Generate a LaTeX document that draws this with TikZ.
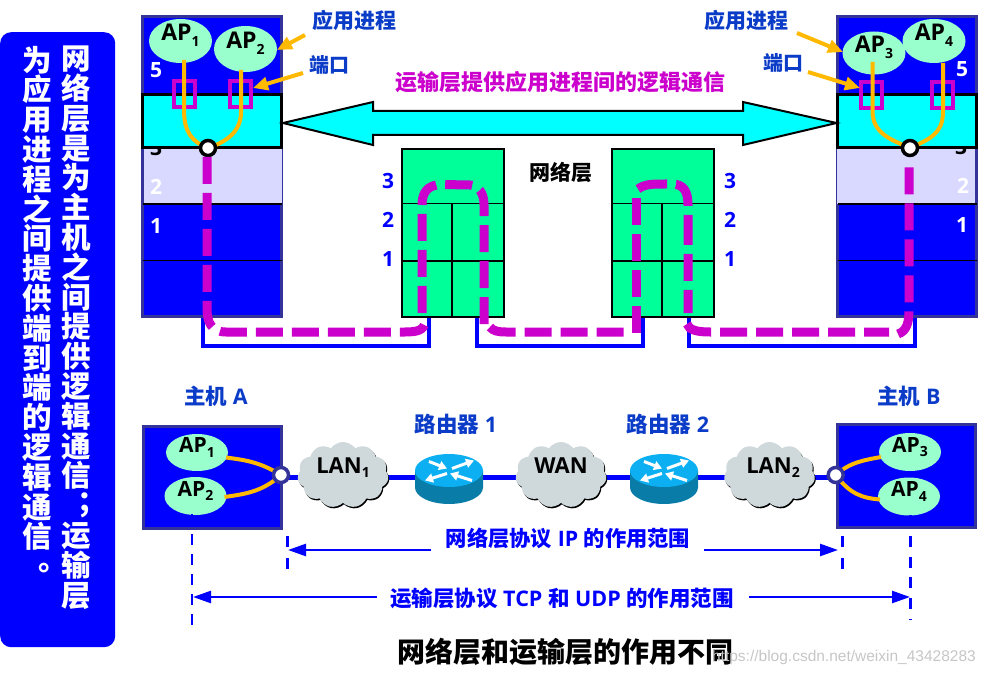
\documentclass[tikz,border=0pt]{standalone}
\usepackage{fontspec}
\setmainfont{Open Sans}
\newfontfamily\cjk{Noto Sans CJK SC}
\newfontfamily\lat{Open Sans}
\newfontfamily\wm{Liberation Sans}
\usetikzlibrary{shapes.geometric,shapes.symbols,arrows.meta,backgrounds}
\definecolor{hostedge}{HTML}{333399}
\definecolor{hostblue}{HTML}{0000FF}
\definecolor{lav}{HTML}{D9D9FF}
\definecolor{mag}{HTML}{CC00CC}
\definecolor{yel}{HTML}{FFB900}
\definecolor{mint}{HTML}{99FFCC}
\definecolor{rgreen}{HTML}{00FF99}
\definecolor{lbl}{HTML}{0B3CC8}
\definecolor{cloudc}{HTML}{CFD8DB}
\definecolor{rtop}{HTML}{0CB0F2}
\definecolor{rside}{HTML}{0A7CA8}
\definecolor{aqua}{HTML}{00FFFF}
\newcommand\fz[1]{\fontsize{#1}{#1}\selectfont}
\newcommand\bc[1]{{\cjk\bfseries #1}}
\newcommand\bl[1]{{\lat\bfseries #1}}
\newcommand\ap[2]{\raisebox{0pt}[0pt][0pt]{\fz{#2}\bl{AP\raisebox{-0.22em}{\fz{14}\bl{#1}}}}}
\tikzset{
 x=1pt,y=-1pt,
 txt/.style={inner sep=0pt,outer sep=0pt,text=#1},
 txt/.default=black,
 stack/.style={draw=hostedge,line width=2.5pt,fill=hostblue,minimum width=139pt,minimum height=300pt,inner sep=0pt,outer sep=0pt},
 cyanbox/.style={draw=black,line width=3pt,fill=aqua,minimum width=139pt,minimum height=53pt,inner sep=0pt},
 lavbox/.style={fill=lav,minimum width=138pt,minimum height=56pt,inner sep=0pt},
 sep/.style={draw=black,line width=1.5pt},
 rbox/.style={draw=black,line width=2pt,fill=rgreen,minimum width=102pt,minimum height=167.5pt,inner sep=0pt,outer sep=0pt},
 apell/.style={ellipse,fill=mint,minimum width=#1,inner sep=0pt,outer sep=0pt},
 apell/.default=63pt,
 port/.style={draw=mag,line width=4pt,minimum width=21pt,minimum height=26pt,inner sep=0pt},
 yl/.style={draw=yel,line width=4pt},
 ptr/.style={draw=yel,line width=4pt,-{Triangle[length=15pt,width=13pt]}},
 hole/.style={circle,draw=black,fill=white,line width=3.5pt,minimum size=15pt,inner sep=0pt},
 hole2/.style={circle,draw=hostedge,fill=white,line width=3.5pt,minimum size=15pt,inner sep=0pt},
 logic/.style={draw=mag,line width=9pt,dash pattern=on 27pt off 9pt},
 link/.style={draw=hostblue,line width=4.5pt,line join=miter},
 net/.style={draw=hostblue,line width=5pt},
 scope/.style={draw=hostblue,line width=2.5pt,-{Triangle[length=18pt,width=12pt]}},
 tick/.style={draw=hostblue,line width=2.5pt,dash pattern=on 11pt off 9pt},
 cloudn/.style={cloud,cloud puffs=11,cloud puff arc=110,aspect=1.4,fill=cloudc,minimum width=91pt,minimum height=66pt,inner sep=0pt},
 routerpic/.pic={
  \fill[rside] (-34,0) -- (-34,17) arc[start angle=180,end angle=360,x radius=34pt,y radius=16.5pt] -- (34,0) -- cycle;
  \fill[rtop] (0,0) ellipse [x radius=34pt,y radius=16.5pt];
  \draw[white,line width=3pt,-{Triangle[length=8pt,width=9pt]}] (-20,-9) -- (-2,-2);
  \draw[white,line width=3pt,-{Triangle[length=8pt,width=9pt]}] (3,-2) -- (25,-10);
  \draw[white,line width=3pt,-{Triangle[length=8pt,width=9pt]}] (-2,3) -- (-24,10);
  \draw[white,line width=3pt,-{Triangle[length=8pt,width=9pt]}] (23,10) -- (1,3);
 }
}
\begin{document}
\begin{tikzpicture}
\useasboundingbox (0,0) rectangle (985,676);

% left panel
\node[fill=hostblue,rounded corners=11pt,minimum width=115pt,minimum height=615pt,inner sep=0pt,anchor=north west] (panel) at (0,32) {};
\node[txt=white,anchor=north,align=center,font=\fontsize{29.5}{29.8}\selectfont\cjk\bfseries] (col1) at (76.5,46) {网\\络\\层\\是\\为\\主\\机\\之\\间\\提\\供\\逻\\辑\\通\\信\\\hspace{1pt}\raisebox{4pt}[0pt][0pt]{\makebox[0pt][l]{；}}\\运\\输\\层};
\node[txt=white,anchor=north,align=center,font=\fontsize{29.5}{29.8}\selectfont\cjk\bfseries] (col2) at (37,46) {为\\应\\用\\进\\程\\之\\间\\提\\供\\端\\到\\端\\的\\逻\\辑\\通\\信\\\hspace{4pt}\raisebox{7pt}[0pt][0pt]{\makebox[0pt][l]{。}}};

% end hosts, upper
\node[stack] (hostL) at (212,166.5) {};
\node[stack] (hostR) at (907,166.5) {};
\node[lavbox] (lavL) at (213,176) {};
\node[lavbox] (lavR) at (906,176) {};
\draw[sep] (142.5,204) -- (281.5,204) (142.5,260.7) -- (281.5,260.7);
\draw[sep] (837.5,204) -- (976.5,204) (837.5,260.7) -- (976.5,260.7);
\node[txt=white,font=\fz{21}\bfseries] (l5) at (156,70) {5};
\node[txt=black,font=\fz{21}\bfseries] (l3) at (156,148) {3};
\node[txt=white,font=\fz{21}\bfseries] (l2) at (156,187) {2};
\node[txt=white,font=\fz{21}\bfseries] (l1) at (156,226) {1};
\node[txt=white,font=\fz{21}\bfseries] (r5) at (962,69) {5};
\node[txt=black,font=\fz{21}\bfseries] (r3) at (961,147) {3};
\node[txt=white,font=\fz{21}\bfseries] (r2) at (963,186) {2};
\node[txt=white,font=\fz{21}\bfseries] (r1) at (962,225) {1};
\node[cyanbox] (cyL) at (212,121.5) {};
\node[cyanbox] (cyR) at (907,121.5) {};

% ports
\node[port] (p1) at (184.3,94) {};
\node[port] (p2) at (240.3,94) {};
\node[port] (p3) at (871.5,95) {};
\node[port] (p4) at (942,95) {};

% applications, upper
\node[apell,minimum height=44pt] (ap1) at (180.5,41) {\ap{1}{23}};
\node[apell,minimum height=46pt] (ap2) at (245.5,49) {\ap{2}{23}};
\node[apell,minimum height=43pt] (ap3) at (874,53) {\ap{3}{23}};
\node[apell,minimum height=44pt] (ap4) at (934,41) {\ap{4}{23}};

\coordinate (cLc) at (208,148);
\coordinate (cRc) at (910,148);
\coordinate (y1) at (184,60);
\coordinate (y1a) at (184,110);
\coordinate (y2) at (241,70);
\coordinate (y2a) at (241,112);
\coordinate (y3) at (872.5,62);
\coordinate (y3a) at (872.5,112);
\coordinate (y4) at (943,63);
\coordinate (y4a) at (943,112);
\draw[yl] (y1) -- (y1a) .. controls (184,132) and (192,142) .. (cLc);
\draw[yl] (y2) -- (y2a) .. controls (241,132) and (226,142) .. (cLc);
\draw[yl] (y3) -- (y3a) .. controls (873,134) and (892,140) .. (cRc);
\draw[yl] (y4) -- (y4a) .. controls (943,134) and (928,140) .. (cRc);
\node[hole] (cL) at (cLc) {};
\node[hole] (cR) at (cRc) {};

% routers upper
\node[rbox] (rt1) at (453,233) {};
\node[rbox] (rt2) at (663,233) {};
\draw[sep] (rt1.west |- 0,203.3) -- (rt1.east |- 0,203.3);
\draw[sep] (rt1.west |- 0,261) -- (rt1.east |- 0,261);
\draw[sep] (452,203.3) -- (452,316.7);
\draw[sep] (rt2.west |- 0,203.3) -- (rt2.east |- 0,203.3);
\draw[sep] (rt2.west |- 0,261) -- (rt2.east |- 0,261);
\draw[sep] (662,203.3) -- (662,316.7);

% blue U links
\begin{scope}[on background layer]
\coordinate (ua) at (203,317); \coordinate (ub) at (429,317);
\coordinate (uc) at (477,317); \coordinate (ud) at (643,317);
\coordinate (ue) at (689,317); \coordinate (uf) at (915,317);
\draw[link] (ua) -- (203,346) -- (429,346) -- (ub);
\draw[link] (uc) -- (477,346) -- (643,346) -- (ud);
\draw[link] (ue) -- (689,346) -- (915,346) -- (uf);
\end{scope}

% magenta logical path
\draw[logic] (207,157) -- (207,308) .. controls (207,322) and (211,332) .. (226,332) -- (405,332) .. controls (418,332) and (424,330) .. (425,322);
\draw[logic] (422,313) -- (422,205) .. controls (422,192) and (428,185) .. (441,184.5) -- (470,185) .. controls (478,186) and (484,192) .. (484,205) -- (484,324);
\draw[logic] (490,327) .. controls (493,331) and (498,332) .. (506,332) -- (624,332);
\draw[logic] (636,333) -- (636,197);
\draw[logic,dash pattern=on 30pt off 9pt on 27pt off 9pt] (638,189) .. controls (645,184) and (652,184) .. (666,184) -- (672,184) .. controls (684,184) and (688,192) .. (688,205) -- (688,313);
\draw[logic] (687,324) .. controls (689,330) and (697,332) .. (710,332) -- (889,332);
\draw[logic] (898,334) .. controls (907,331) and (909,322) .. (909,310) -- (909,166);

% big double arrow
\coordinate (bigL) at (283,123); \coordinate (bigR) at (836.5,123);
\draw[line width=2pt,fill=aqua,line join=miter] (bigL) -- (373,102) -- (373,111) -- (743,111) -- (743,102) -- (bigR) -- (743,145) -- (743,135) -- (373,135) -- (373,145) -- cycle;

% pointer arrows and labels
\node[txt=lbl,font=\fz{21}\cjk\bfseries] (tAppL) at (354,20) {应用进程};
\node[txt=lbl,font=\fz{20}\cjk\bfseries] (tPortL) at (329,65) {端口};
\node[txt=lbl,font=\fz{21}\cjk\bfseries] (tAppR) at (746,20) {应用进程};
\node[txt=lbl,font=\fz{20}\cjk\bfseries] (tPortR) at (783,63) {端口};
\coordinate (a1) at (305,35); \coordinate (a2) at (303,73); \coordinate (a3) at (797,33); \coordinate (a4) at (808,72);
\coordinate (b1) at (277,50); \coordinate (b2) at (253,88); \coordinate (b3) at (843,52); \coordinate (b4) at (860,88);
\draw[ptr] (a1) -- (b1);
\draw[ptr] (a2) -- (b2);
\draw[ptr] (a3) -- (b3);
\draw[ptr] (a4) -- (b4);
\node[txt=mag,font=\fz{22}\cjk\bfseries] (tTitle) at (560,82) {运输层提供应用进程间的逻辑通信};
\node[txt,font=\fz{21}\cjk\bfseries] (tNet) at (561,173) {网络层};
\foreach \n/\y/\t in {a/181/3,b/220/2,c/259/1}{
 \node[txt=hostblue,font=\fz{21}\bfseries] (nl\n) at (388,\y) {\t};
 \node[txt=hostblue,font=\fz{21}\bfseries] (nr\n) at (730,\y) {\t};
}

% lower network
\node[txt=lbl,font=\fz{21.5}] (tHA) at (216,396) {\bc{主机} \bl{A}};
\node[txt=lbl,font=\fz{21.5}] (tHB) at (909,396) {\bc{主机} \bl{B}};
\node[txt=lbl,font=\fz{21.5}] (tR1) at (456,424) {\bc{路由器} \bl{1}};
\node[txt=lbl,font=\fz{21.5}] (tR2) at (668,424) {\bc{路由器} \bl{2}};
\node[draw=hostedge,line width=3pt,fill=hostblue,minimum width=138pt,minimum height=102pt,inner sep=0pt] (boxA) at (212,477) {};
\node[draw=hostedge,line width=3pt,fill=hostblue,minimum width=138pt,minimum height=103pt,inner sep=0pt] (boxB) at (906,475.5) {};
\node[apell=62pt,minimum height=37pt] (a1n) at (197,452.5) {\ap{1}{21}};
\node[apell=62pt,minimum height=38pt] (a2n) at (195.5,496) {\ap{2}{21}};
\node[apell=62pt,minimum height=38pt] (a3n) at (910,452) {\ap{3}{21}};
\node[apell=62pt,minimum height=38pt] (a4n) at (909,496.5) {\ap{4}{21}};
\coordinate (hAc) at (281,475); \coordinate (hBc) at (835.7,475);
\draw[yl] (a1n.east) ++(-2,5) .. controls (245,460) and (260,462) .. (hAc);
\draw[yl] (a2n.east) ++(-2,1) .. controls (245,494) and (262,492) .. (hAc);
\draw[yl] (a3n.west) ++(2,5) .. controls (865,460) and (850,462) .. (hBc);
\draw[yl] (a4n.west) ++(2,3) .. controls (862,498) and (850,494) .. (hBc);
\node[hole2] (hA) at (hAc) {};
\node[hole2] (hB) at (hBc) {};

\node[cloudn,fill=black] (s1) at (344,476.5) {};
\node[cloudn] (lan1) at (343,475) {};
\node[txt,font=\fz{22}] (tL1) at (343,473) {\raisebox{0pt}[0pt][0pt]{\bl{LAN\raisebox{-0.22em}{\fz{14}\bl{1}}}}};
\node[cloudn,fill=black] (s2) at (562,476.5) {};
\node[cloudn] (wan) at (561,475) {};
\node[txt,font=\fz{22}] (tW) at (561,466) {\bl{WAN}};
\node[cloudn,fill=black] (s3) at (770.5,476.5) {};
\node[cloudn] (lan2) at (769.5,475) {};
\node[txt,font=\fz{22}] (tL2) at (773,473) {\raisebox{0pt}[0pt][0pt]{\bl{LAN\raisebox{-0.22em}{\fz{14}\bl{2}}}}};
\pic at (449,470.5) {routerpic};
\pic at (664,470.5) {routerpic};
\coordinate (rA) at (449,477.7);
\coordinate (rB) at (664,477.7);
\begin{scope}[on background layer]
\draw[net] (hA.center |- rA) -- (lan1.center |- rA) -- (rA) -- (wan.center |- rA) -- (rB) -- (lan2.center |- rA) -- (hB.center |- rA);
\end{scope}

% scope ticks
\coordinate (t1a) at (192,514); \coordinate (t1b) at (192,627);
\coordinate (t2a) at (910.3,515); \coordinate (t2b) at (910.3,620);
\coordinate (t3a) at (287.3,536); \coordinate (t3b) at (287.3,569);
\coordinate (t4a) at (842.3,536); \coordinate (t4b) at (842.3,569);
\draw[tick] (t1a) -- (t1b);
\draw[tick,dash pattern=on 11pt off 9.8pt] (t2a) -- (t2b);
\draw[tick,dash pattern=on 11pt off 11pt] (t3a) -- (t3b);
\draw[tick,dash pattern=on 11pt off 11pt] (t4a) -- (t4b);

% scope arrows and labels
\node[txt=hostblue,font=\fz{21.3}] (tIP) at (568,538) {\bc{网络层协议} \bl{IP} \bc{的作用范围}};
\node[txt=hostblue,font=\fz{21.5}] (tTCP) at (562,598) {\bc{运输层协议} \bl{TCP} \bc{和} \bl{UDP} \bc{的作用范围}};
\coordinate (ipL) at (288,550); \coordinate (ipLs) at (431,550);
\coordinate (ipR) at (838,550); \coordinate (ipRs) at (704,550);
\coordinate (tcL) at (193,597); \coordinate (tcLs) at (377,597);
\coordinate (tcR) at (910,597); \coordinate (tcRs) at (749,597);
\draw[scope] (ipLs) -- (ipL);
\draw[scope] (ipRs) -- (ipR);
\draw[scope] (tcLs) -- (tcL);
\draw[scope] (tcRs) -- (tcR);

\node[txt,font=\fz{28}\cjk\bfseries] (tBottom) at (565,652) {网络层和运输层的作用不同};
\node[text=gray!45,inner sep=0pt,font=\fz{15.5}\wm,anchor=east] (tWm) at (976,657) {https://blog.csdn.net/weixin\_43428283};
\end{tikzpicture}
\end{document}
